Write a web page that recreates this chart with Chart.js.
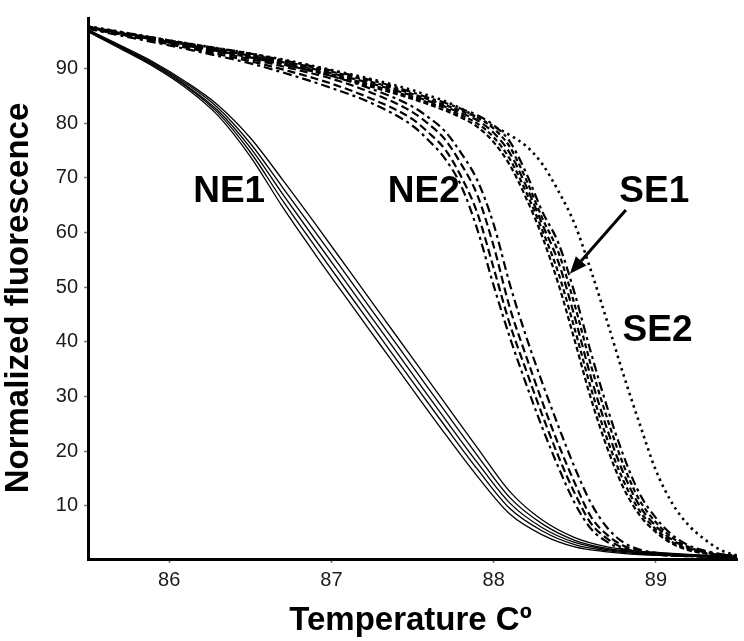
<!DOCTYPE html>
<html><head><meta charset="utf-8">
<script src="https://cdn.jsdelivr.net/npm/chart.js@4"></script>
<style>html,body{margin:0;padding:0;background:#fff}#wrap{width:744px;height:641px;position:relative}</style>
</head><body><div id="wrap"><canvas id="c"></canvas></div>
<script>
// ---- data (temperature in °C, normalized fluorescence) ----
const tempNE1 = [85.5,85.7,85.9,86.1,86.3,86.5,86.7,86.9,87.1,87.3,87.5,87.7,87.9,88.1,88.3,88.5,88.7,88.9,89.1,89.3,89.5];
const ne1_a = [96.7,93.6,90.4,86.5,81.4,73.9,64.6,56.0,47.7,39.5,31.3,23.2,15.4,8.5,4.7,2.5,1.6,1.1,0.9,0.7,0.5];
const ne1_b = [96.8,93.8,90.6,86.8,81.9,74.7,65.8,57.4,49.1,40.9,32.7,24.6,16.7,9.5,5.4,2.9,1.8,1.2,1.0,0.7,0.5];
const ne1_c = [96.9,93.9,90.8,87.0,82.3,75.5,67.0,58.7,50.5,42.3,34.1,25.9,17.9,10.5,6.0,3.3,2.0,1.4,1.1,0.8,0.6];
const ne1_d = [97.0,94.0,91.0,87.3,82.8,76.3,68.2,60.1,51.9,43.7,35.5,27.3,19.2,11.5,6.7,3.7,2.2,1.5,1.2,0.9,0.7];
const ne1_e = [97.1,94.2,91.2,87.6,83.3,77.3,69.6,61.6,53.4,45.2,37.0,28.8,20.6,12.6,7.4,4.2,2.5,1.7,1.3,1.0,0.7];

const tempGrid = [85.5,85.75,86.0,86.25,86.5,86.75,87.0,87.25,87.5,87.6,87.7,87.8,87.9,88.0,88.1,88.2,88.3,88.4,88.5,88.6,88.7,88.8,88.9,89.0,89.1,89.2,89.3,89.4,89.5];
const ne2_a = [97.2,95.7,94.2,92.6,90.9,88.8,86.4,83.6,79.5,76.8,73.5,68.5,60.5,50.3,40.8,32.3,24.3,17.0,10.5,5.8,3.4,2.0,1.4,1.1,0.9,0.8,0.7,0.6,0.5];
const ne2_b = [97.3,95.9,94.4,92.9,91.3,89.4,87.2,84.4,80.7,78.2,75.2,70.2,63.5,53.5,43.2,34.8,26.6,19.0,12.3,6.8,4.0,2.3,1.5,1.1,0.9,0.8,0.7,0.6,0.5];
const ne2_c = [97.4,96.0,94.7,93.2,91.7,90.0,88.1,85.5,82.0,79.8,77.0,72.5,66.8,57.5,46.2,37.4,29.0,21.2,14.2,8.0,4.7,2.7,1.7,1.2,1.0,0.9,0.8,0.7,0.6];
const ne2_d = [97.5,96.2,94.9,93.5,92.0,90.4,88.6,86.2,83.0,81.0,78.5,74.5,69.5,61.5,50.5,41.0,32.5,24.5,17.0,10.5,6.0,3.3,2.0,1.4,1.1,0.9,0.8,0.7,0.6];
const se1_a = [97.4,96.1,94.7,93.4,92.0,90.4,88.6,86.6,84.4,83.4,82.3,81.0,79.3,76.5,72.3,66.3,59.2,50.5,40.2,29.6,20.6,13.3,8.3,5.2,3.1,1.9,1.3,0.9,0.7];
const se1_b = [97.5,96.2,94.8,93.5,92.2,90.6,88.9,86.9,84.7,83.7,82.7,81.4,79.9,77.4,73.4,67.4,60.4,52.5,42.3,31.5,22.2,14.6,9.1,5.7,3.4,2.1,1.4,1.0,0.7];
const se1_c = [97.5,96.2,94.8,93.6,92.3,90.8,89.1,87.2,85.0,84.0,83.0,81.8,80.5,78.2,74.5,68.5,61.5,54.5,44.5,33.5,24.0,16.0,10.0,6.3,3.8,2.3,1.5,1.0,0.8];
const se1_d = [97.6,96.3,95.0,93.8,92.5,91.0,89.4,87.5,85.3,84.3,83.3,82.2,81.0,79.0,75.6,69.7,62.6,56.3,46.7,35.7,26.0,17.5,11.0,7.0,4.2,2.5,1.6,1.1,0.8];
const se1_e = [97.6,96.4,95.1,93.9,92.7,91.2,89.6,87.8,85.6,84.6,83.7,82.6,81.4,79.6,76.6,70.9,63.8,58.0,48.8,38.0,28.0,19.2,12.2,7.8,4.7,2.8,1.8,1.2,0.9];
const se2_a = [97.7,96.4,95.1,93.9,92.7,91.3,89.7,88.0,86.0,85.0,84.0,82.6,81.0,79.4,77.8,75.8,72.5,67.5,61.5,53.0,43.7,34.0,25.0,16.5,10.5,6.5,3.9,1.9,0.9];

const xTicks = [86,87,88,89];
const yTicks = [10,20,30,40,50,60,70,80,90];
const groupLabels = ['NE1','NE2','SE1','SE2'];
const xTitle = 'Temperature Cº';
const yTitle = 'Normalized fluorescence';

// ---- styling / layout ----
const FONT = '"Liberation Sans", Arial, Helvetica, sans-serif';
const labelPos = [[86.37,68.0],[87.57,68.0],[88.99,68.0],[89.01,42.5]];
const arrowFrom = [88.815,64.1], arrowTo = [88.47,52.45];

function pts(xs, ys){ return ys.map((v,i)=>({x:xs[i], y:v})); }
const solid = {borderColor:'#000', borderWidth:1.3, borderDash:[]};
const dashed = {borderColor:'#000', borderWidth:2.2, borderDash:[8,4]};
const dashDot = {borderColor:'#000', borderWidth:2.2, borderDash:[9,4,3,4]};
const shortDash = {borderColor:'#000', borderWidth:2.2, borderDash:[5,3]};
const dotted = {borderColor:'#000', borderWidth:2.6, borderDash:[2.5,4]};

const series = [
  ['NE1 a', tempNE1, ne1_a, solid], ['NE1 b', tempNE1, ne1_b, solid], ['NE1 c', tempNE1, ne1_c, solid],
  ['NE1 d', tempNE1, ne1_d, solid], ['NE1 e', tempNE1, ne1_e, solid],
  ['NE2 a', tempGrid, ne2_a, dashDot], ['NE2 b', tempGrid, ne2_b, dashed], ['NE2 c', tempGrid, ne2_c, dashed], ['NE2 d', tempGrid, ne2_d, dashDot],
  ['SE1 a', tempGrid, se1_a, shortDash], ['SE1 b', tempGrid, se1_b, shortDash], ['SE1 c', tempGrid, se1_c, dashed],
  ['SE1 d', tempGrid, se1_d, shortDash], ['SE1 e', tempGrid, se1_e, dashDot],
  ['SE2', tempGrid, se2_a, dotted]
];

const datasets = series.map(([name, xs, ys, st]) => Object.assign({
  label:name, data:pts(xs, ys), pointRadius:0, fill:false,
  cubicInterpolationMode:'monotone', borderCapStyle:'butt'
}, st));

const annot = {
  id:'annot',
  afterDraw(chart){
    const {ctx, scales:{x, y}, chartArea} = chart;
    ctx.save();
    ctx.fillStyle = '#000';
    ctx.textAlign = 'center';
    ctx.textBaseline = 'alphabetic';
    const ls = 37;
    ctx.font = 'bold ' + ls + 'px ' + FONT;
    groupLabels.forEach((t,i)=>{
      ctx.fillText(t, x.getPixelForValue(labelPos[i][0]), y.getPixelForValue(labelPos[i][1]) + 0.358*ls);
    });
    // arrow
    const x0 = x.getPixelForValue(arrowFrom[0]), y0 = y.getPixelForValue(arrowFrom[1]);
    const x1 = x.getPixelForValue(arrowTo[0]), y1 = y.getPixelForValue(arrowTo[1]);
    const ang = Math.atan2(y1-y0, x1-x0), hl = 17, hw = 7;
    const bx = x1 - hl*Math.cos(ang), by = y1 - hl*Math.sin(ang);
    ctx.strokeStyle = '#000'; ctx.lineWidth = 3;
    ctx.beginPath(); ctx.moveTo(x0,y0); ctx.lineTo(bx,by); ctx.stroke();
    ctx.beginPath(); ctx.moveTo(x1,y1);
    ctx.lineTo(bx + hw*Math.sin(ang), by - hw*Math.cos(ang));
    ctx.lineTo(bx - hw*Math.sin(ang), by + hw*Math.cos(ang));
    ctx.closePath(); ctx.fill();
    // axis titles
    ctx.font = 'bold 33px ' + FONT;
    ctx.fillText(xTitle, (chartArea.left + chartArea.right)/2 - 2, 630);
    ctx.translate(27.5, 298);
    ctx.rotate(-Math.PI/2);
    ctx.fillText(yTitle, 0, 0);
    ctx.restore();
  }
};

new Chart(document.getElementById('c'), {
  type:'line',
  data:{datasets},
  options:{
    responsive:true, maintainAspectRatio:false, animation:false,
    layout:{padding:{top:7, right:7, left:0, bottom:0}},
    plugins:{legend:{display:false}, tooltip:{enabled:false}, title:{display:false}},
    scales:{
      x:{type:'linear', min:85.5, max:89.5,
        afterBuildTicks:s=>{ s.ticks = xTicks.map(v=>({value:v})); },
        afterFit:s=>{ s.height = 82; },
        grid:{drawOnChartArea:false, drawTicks:true, tickLength:4, tickColor:'#777', tickWidth:1.5},
        border:{display:true, color:'#000', width:3},
        ticks:{color:'#1a1a1a', padding:5, font:{family:FONT, size:20}, maxRotation:0, autoSkip:false}
      },
      y:{type:'linear', min:0.28, max:99.2,
        afterBuildTicks:s=>{ s.ticks = yTicks.map(v=>({value:v})); },
        afterFit:s=>{ s.width = 88; },
        grid:{drawOnChartArea:false, drawTicks:true, tickLength:4, tickColor:'#777', tickWidth:1.5},
        border:{display:true, color:'#000', width:3},
        ticks:{color:'#1a1a1a', padding:6, font:{family:FONT, size:20}, autoSkip:false}
      }
    }
  },
  plugins:[annot]
});
</script></body></html>
